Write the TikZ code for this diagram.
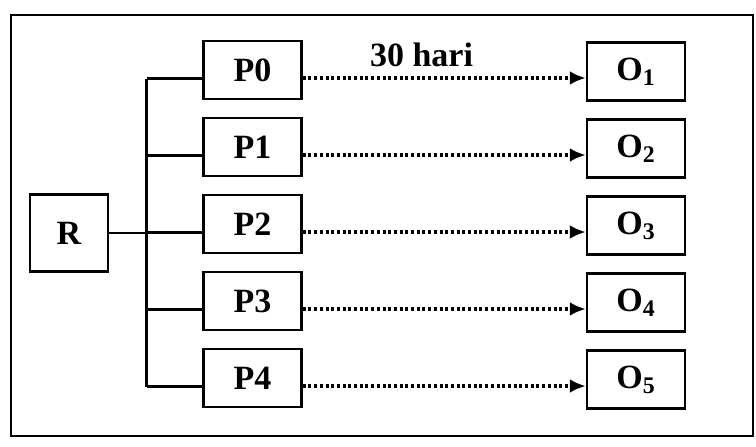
\documentclass[tikz,border=0pt]{standalone}
\usepackage{fontspec}
\setmainfont{Liberation Serif}
\usetikzlibrary{arrows.meta}

\begin{document}
\begin{tikzpicture}[
  x=0.5pt, y=-0.5pt,
  every node/.style={font=\bfseries\fontsize{17}{20}\selectfont},
  box/.style={draw, line width=1.25pt, minimum width=49pt, minimum height=29pt, inner sep=0pt},
  rbox/.style={draw, line width=1.25pt, minimum width=39pt, minimum height=38.5pt, inner sep=0pt},
  tree/.style={line width=1.1pt},
  flow/.style={line width=1.9pt, dash pattern=on 1.5pt off 1.35pt,
               -{Latex[length=8pt,width=7pt]}},
]
\useasboundingbox (0,0) rectangle (756,446);
\fill[white] (0,0) rectangle (756,446);

% outer frame
\draw[line width=1.25pt] (11,15) rectangle (753,436);

% root node
\node[rbox] (R) at (69,233) {R};

% treatment groups and observations
\foreach \i/\j in {0/1,1/2,2/3,3/4,4/5} {
  \node[box] (P\i) at (252.5, 70+77*\i) {P\i};
  \node[box] (O\j) at (636, 71.5+77*\i) {O\textsubscript{\j}};
  \coordinate (b\i) at ([yshift=-4.25pt]P\i.west);
  \coordinate (a\i) at ([yshift=-4pt]P\i.east);
}

% branching lines from R to the groups
\coordinate (trunk) at (146.5,0);
\draw[tree] (trunk |- b0) -- (trunk |- b4);
\draw[tree] (R.east) -- (trunk |- R.east);
\foreach \i in {0,...,4} {
  \draw[tree] (trunk |- b\i) -- (b\i);
}

% dotted arrows to the observations
\foreach \i/\j in {0/1,1/2,2/3,3/4,4/5} {
  \draw[flow] (a\i) -- (a\i -| O\j.west);
}

% time label
\node (lbl) at (421.5,55) {30 hari};
\end{tikzpicture}
\end{document}
